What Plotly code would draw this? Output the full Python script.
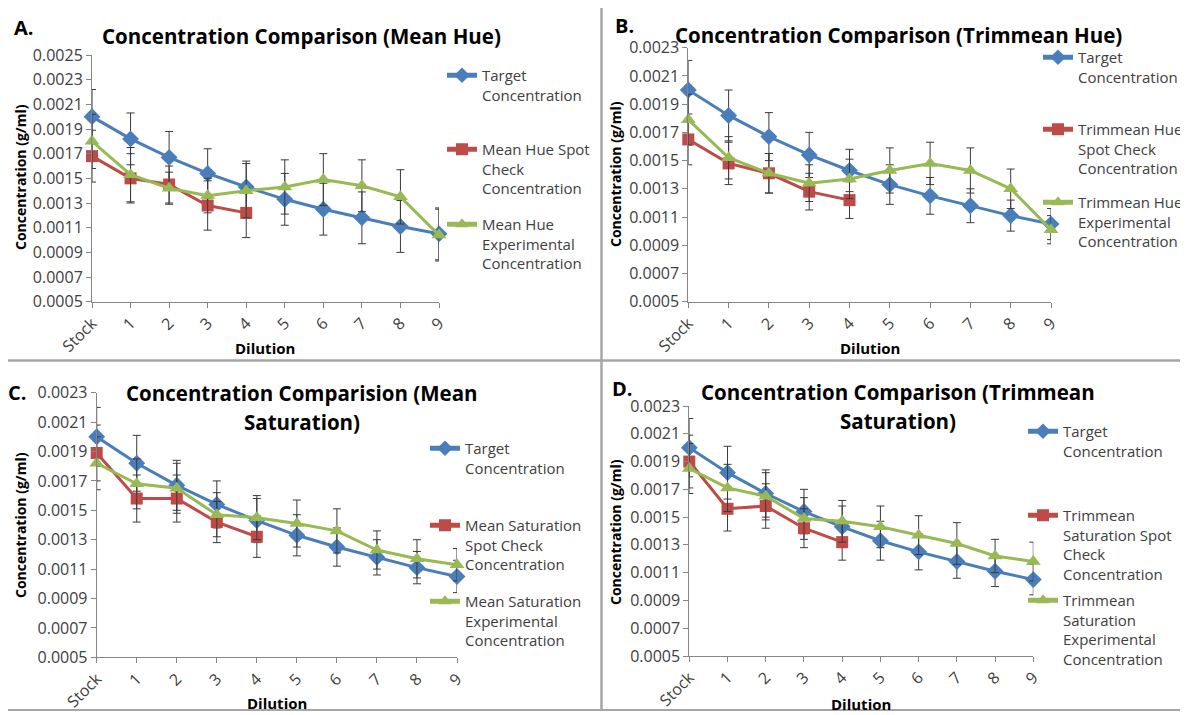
import plotly.graph_objects as go

# ---------------- data ----------------
categories = ["Stock", "1", "2", "3", "4", "5", "6", "7", "8", "9"]
spot_categories = ["Stock", "1", "2", "3", "4"]

target = [0.00200, 0.00182, 0.00167, 0.00154, 0.00143, 0.00133, 0.00125, 0.00118, 0.00111, 0.00105]

# Panel A (Mean Hue)
a_target_err = [0.00022, 0.00021, 0.00021, 0.00020, 0.00021, 0.00021, 0.00021, 0.00021, 0.00021, 0.00021]
a_spot = [0.00168, 0.00150, 0.00145, 0.00128, 0.00122]
a_spot_err = [0.00021, 0.00020, 0.00015, 0.00020, 0.00020]
a_exp = [0.00180, 0.00153, 0.00142, 0.00136, 0.00140, 0.00143, 0.00149, 0.00144, 0.00135, 0.00104]
a_exp_err = [0.00022, 0.00022, 0.00013, 0.00014, 0.00022, 0.00022, 0.00021, 0.00021, 0.00022, 0.00021]

# Panel B (Trimmean Hue)
b_target_err = [0.00021, 0.00018, 0.00017, 0.00016, 0.00015, 0.00014, 0.00013, 0.00012, 0.00011, 0.00011]
b_spot = [0.00165, 0.00148, 0.00141, 0.00128, 0.00122]
b_spot_err = [0.00018, 0.00015, 0.00014, 0.00013, 0.00013]
b_exp = [0.00179, 0.00152, 0.00141, 0.00134, 0.00137, 0.00143, 0.00148, 0.00143, 0.00130, 0.00101]
b_exp_err = [0.00018, 0.00015, 0.00014, 0.00013, 0.00014, 0.00016, 0.00015, 0.00016, 0.00014, 0.00010]

# Panel C (Mean Saturation)
c_target_err = [0.00020, 0.00019, 0.00017, 0.00016, 0.00015, 0.00014, 0.00013, 0.00012, 0.00011, 0.00011]
c_spot = [0.00189, 0.00158, 0.00158, 0.00142, 0.00132]
c_spot_err = [0.00019, 0.00016, 0.00016, 0.00014, 0.00014]
c_exp = [0.00182, 0.00168, 0.00165, 0.00147, 0.00145, 0.00141, 0.00136, 0.00123, 0.00117, 0.00113]
c_exp_err = [0.00018, 0.00017, 0.00017, 0.00015, 0.00015, 0.00016, 0.00015, 0.00013, 0.00013, 0.00011]

# Panel D (Trimmean Saturation)
d_target_err = [0.00021, 0.00019, 0.00017, 0.00016, 0.00015, 0.00014, 0.00013, 0.00012, 0.00011, 0.00011]
d_spot = [0.00190, 0.00156, 0.00158, 0.00142, 0.00132]
d_spot_err = [0.00019, 0.00016, 0.00016, 0.00014, 0.00013]
d_exp = [0.00185, 0.00171, 0.00165, 0.00149, 0.00147, 0.00143, 0.00137, 0.00131, 0.00122, 0.00118]
d_exp_err = [0.00018, 0.00017, 0.00017, 0.00015, 0.00015, 0.00015, 0.00014, 0.00015, 0.00012, 0.00014]

panel_letters = ["A.", "B.", "C.", "D."]
panel_titles = [
    ["Concentration Comparison (Mean Hue)"],
    ["Concentration Comparison (Trimmean Hue)"],
    ["Concentration Comparision (Mean", "Saturation)"],
    ["Concentration Comparison (Trimmean", "Saturation)"],
]
legend_names = [
    ["Target<br>Concentration", "Mean Hue Spot<br>Check<br>Concentration", "Mean Hue<br>Experimental<br>Concentration"],
    ["Target<br>Concentration", "Trimmean Hue<br>Spot Check<br>Concentration", "Trimmean Hue<br>Experimental<br>Concentration"],
    ["Target<br>Concentration", "Mean Saturation<br>Spot Check<br>Concentration", "Mean Saturation<br>Experimental<br>Concentration"],
    ["Target<br>Concentration", "Trimmean<br>Saturation Spot<br>Check<br>Concentration", "Trimmean<br>Saturation<br>Experimental<br>Concentration"],
]
y_max = [0.0025, 0.0023, 0.0023, 0.0023]
y_min = 0.0005
x_title = "Dilution"
y_title = "Concentration (g/ml)"

panel_series = [
    (a_target_err, a_spot, a_spot_err, a_exp, a_exp_err),
    (b_target_err, b_spot, b_spot_err, b_exp, b_exp_err),
    (c_target_err, c_spot, c_spot_err, c_exp, c_exp_err),
    (d_target_err, d_spot, d_spot_err, d_exp, d_exp_err),
]

# ---------------- layout geometry (window pixels) ----------------
OFF = 8                  # page body margin in the browser
W, H = 1180, 707         # figure size
plot_px = [
    (92, 439, 55, 301.7),
    (688.3, 1051, 47.7, 301.7),
    (96.7, 457, 392.7, 657.3),
    (689.3, 1033.3, 406, 656),
]
title_px = [(301, 36), (898, 35), (302, 393), (898, 392)]
letter_px = [(24, 28), (624, 25), (17, 392), (622, 389)]
ytitle_px = [(20, 177), (615, 174), (20, 525), (615, 532)]
xtitle_px = [(265, 348), (870, 348), (277, 703), (861, 704)]
legend_sym_x = [447, 1043, 430, 1028]
legend_rows = [(76, 150, 225), (58, 130, 203), (449, 526, 602), (432, 516, 601)]


def px_x(v):
    return (v - OFF) / W


def px_y(v):
    return 1 - (v - OFF) / H


BLUE = "#4A7EBB"
RED = "#BE4B48"
GREEN = "#98B954"
ERR = "#3A3A3A"
AXIS = "#868686"
TXT = "#404040"
FONT = "Open Sans"

fig = go.Figure()
layout = dict(
    width=W, height=H,
    margin=dict(l=0, r=0, t=0, b=0, pad=0, autoexpand=False),
    paper_bgcolor="white", plot_bgcolor="white",
    font=dict(family=FONT, color=TXT, size=13),
    showlegend=True,
)
annotations = []
shapes = []

legend_idx = 0
for p in range(4):
    xl, xr, yt, yb = plot_px[p]
    xa = "xaxis" if p == 0 else f"xaxis{p + 1}"
    ya = "yaxis" if p == 0 else f"yaxis{p + 1}"
    xref = "x" if p == 0 else f"x{p + 1}"
    yref = "y" if p == 0 else f"y{p + 1}"
    layout[xa] = dict(
        domain=[px_x(xl), px_x(xr)], anchor=yref, type="category",
        categoryorder="array", categoryarray=categories,
        range=[0, 9], showline=True, linecolor=AXIS, linewidth=1,
        ticks="outside", ticklen=5, tickcolor=AXIS, tickangle=-45,
        showgrid=False, zeroline=False, automargin=False,
        tickfont=dict(family=FONT, size=16, color=TXT),
    )
    layout[ya] = dict(
        domain=[px_y(yb), px_y(yt)], anchor=xref,
        range=[y_min, y_max[p]], tick0=y_min, dtick=0.0002, tickformat=".4f",
        showline=True, linecolor=AXIS, linewidth=1,
        ticks="outside", ticklen=5, tickcolor=AXIS,
        showgrid=False, zeroline=False, automargin=False,
        tickfont=dict(family=FONT, size=16, color=TXT),
    )

    t_err, spot, spot_err, exp_, exp_err = panel_series[p]
    specs = [
        (categories, target, t_err, BLUE, "diamond", 13, legend_names[p][0]),
        (spot_categories, spot, spot_err, RED, "square", 12, legend_names[p][1]),
        (categories, exp_, exp_err, GREEN, "triangle-up", 13, legend_names[p][2]),
    ]
    for k, (xs, ys, es, col, sym, sz, name) in enumerate(specs):
        legend_idx += 1
        lname = "legend" if legend_idx == 1 else f"legend{legend_idx}"
        fig.add_trace(go.Scatter(
            x=xs, y=ys, mode="lines+markers", name=name,
            line=dict(color=col, width=3),
            marker=dict(symbol=sym, size=sz, color=col),
            error_y=dict(type="data", array=es, visible=True, color=ERR, thickness=1, width=4),
            xaxis=xref, yaxis=yref, cliponaxis=False, legend=lname,
        ))
        row_y = legend_rows[p][k]
        layout[lname] = dict(
            x=px_x(legend_sym_x[p] - 5), xanchor="left",
            y=px_y(row_y - 17), yanchor="top",
            bgcolor="rgba(0,0,0,0)", borderwidth=0, valign="top",
            font=dict(family=FONT, size=15, color=TXT),
            itemsizing="constant",
        )

    tx, ty = title_px[p]
    for i, line in enumerate(panel_titles[p]):
        annotations.append(dict(
            text=f"<b>{line}</b>", x=px_x(tx), y=px_y(ty + i * 29),
            xref="paper", yref="paper", xanchor="center", yanchor="middle",
            showarrow=False, font=dict(family=FONT, size=20.5, color="black"),
        ))
    lx, ly = letter_px[p]
    annotations.append(dict(
        text=f"<b>{panel_letters[p]}</b>", x=px_x(lx), y=px_y(ly),
        xref="paper", yref="paper", xanchor="center", yanchor="middle",
        showarrow=False, font=dict(family=FONT, size=20, color="black"),
    ))
    yx, yy = ytitle_px[p]
    annotations.append(dict(
        text=f"<b>{y_title}</b>", x=px_x(yx), y=px_y(yy), textangle=-90,
        xref="paper", yref="paper", xanchor="center", yanchor="middle",
        showarrow=False, font=dict(family=FONT, size=14, color="black"),
    ))
    xx, xy = xtitle_px[p]
    annotations.append(dict(
        text=f"<b>{x_title}</b>", x=px_x(xx), y=px_y(xy),
        xref="paper", yref="paper", xanchor="center", yanchor="middle",
        showarrow=False, font=dict(family=FONT, size=15, color="black"),
    ))

for x0, y0, x1, y1 in [(6, 6, 601.5, 360.5), (601.5, 6, 1186, 360.5),
                       (6, 360.5, 601.5, 710), (601.5, 360.5, 1186, 710)]:
    shapes.append(dict(type="rect", xref="paper", yref="paper",
                       x0=px_x(x0), x1=px_x(x1), y0=px_y(y1), y1=px_y(y0),
                       line=dict(color="#A6A6A6", width=2), layer="below"))

layout["annotations"] = annotations
layout["shapes"] = shapes
fig.update_layout(**layout)
fig.write_html("out.html")
